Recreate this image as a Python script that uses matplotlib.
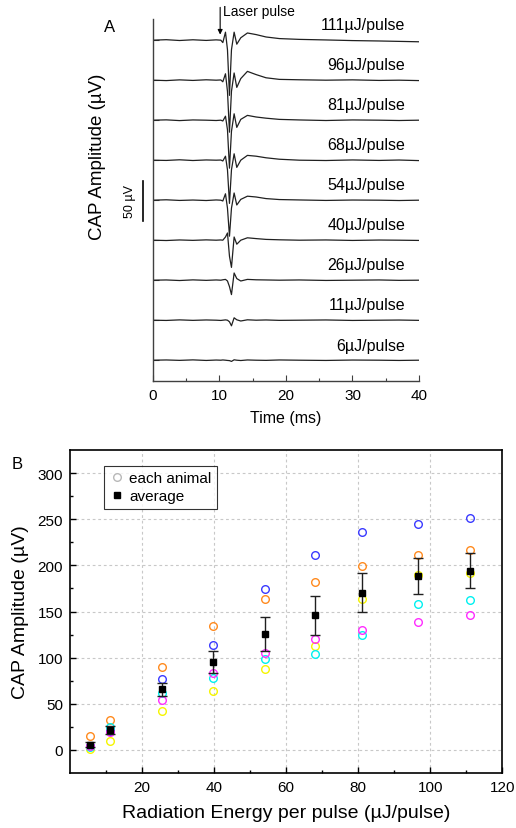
import numpy as np
import matplotlib
matplotlib.use("Agg")
import matplotlib.pyplot as plt
from matplotlib.lines import Line2D

plt.rcParams['font.family'] = ['Liberation Sans', 'DejaVu Sans']

# ---- panel A: CAP traces (key points) ----
trace_labels = ['111µJ/pulse', '96µJ/pulse', '81µJ/pulse', '68µJ/pulse', '54µJ/pulse',
                '40µJ/pulse', '26µJ/pulse', '11µJ/pulse', '6µJ/pulse']
t_key = [0, 2, 4, 6, 8, 9.5, 10.2, 10.5, 10.9, 11.2, 11.5, 11.8, 12.2, 12.6,
         13.2, 14.2, 15.5, 17, 19, 22, 26, 30, 34, 37, 40]
cap_111 = [0, 0.6, -0.4, 0.5, -0.3, 0.4, 0, -3, 10, -12, -69, -12, 10, -5,
           3, 9, 7, 4, 2, 1, 0.3, -0.5, -1.0, -1.5, -2.0]
cap_96 = [0, -0.5, 0.4, -0.3, 0.5, 0, 0.3, -2, 8, -14, -65, -14, 9, -9,
          2, 11, 7, 3, 1, 0.5, 0, 0.4, -0.3, 0, -0.5]
cap_81 = [0, 0.4, -0.5, 0.3, 0, -0.4, 0, -1, 5, -12, -60, -14, 8, -9,
          1, 6, 4, 2.5, 1, 0.3, -0.4, 0.3, 0, -0.4, 0]
cap_68 = [0, -0.3, 0.5, -0.4, 0.3, 0, 0.2, -1, 5, -12, -54, -12, 8, -9,
          0, 6, 5, 3, 1.2, 0, -0.4, 0.3, -0.3, 0.2, -0.5]
cap_54 = [0, 0.5, -0.3, 0.2, -0.4, 0.3, 0, -1, 8, -10, -45, -10, 9, -6,
          1, 5, 4, 2, 0.8, 0.3, -0.3, 0.2, 0, -0.4, 0]
cap_40 = [0, -0.4, 0.3, -0.2, 0.4, 0, 0.3, 0, 4, 9, -20, -34, 4, -5,
          0, 3, 2, 1, 0.5, 0, 0.3, -0.3, 0.2, 0, -0.3]
cap_26 = [0, 0.3, -0.4, 0.4, -0.2, 0.3, 0, 0.5, 1, -1, -8, -18, 9, 2,
          -1, 1, 0.5, 0.3, 0, 0.3, -0.3, 0, 0.3, -0.2, 0]
cap_11 = [0, -0.3, 0.4, -0.2, 0.3, 0, -0.3, 0, 0.4, 0, -2, -7, 3, 0.5,
          -1, 0.5, 0, 0.3, -0.2, 0, 0.3, -0.3, 0, 0.2, -0.2]
cap_6 = [0, 0.3, -0.2, 0.4, -0.3, 0.2, 0, 0.3, 0, -0.3, -0.5, -1.5, 0.5, 0,
         -0.4, 0.3, 0, -0.2, 0.3, 0, -0.3, 0.2, 0, -0.3, 0]
traces = [cap_111, cap_96, cap_81, cap_68, cap_54, cap_40, cap_26, cap_11, cap_6]
trace_step = 50  # µV between stacked traces (= scale bar)

# ---- panel B: amplitudes per animal ----
energy = [5.5, 11, 25.5, 39.7, 54, 68, 81, 96.6, 111]
amp_blue = [4, 20.5, 77.4, 113.4, 174.6, 211.3, 236.2, 244.8, 251.3]
amp_orange = [14.8, 33, 90, 134.3, 163.8, 182.2, 199.5, 211.3, 217]
amp_yellow = [1.4, 9.4, 42.1, 63.7, 87.5, 112.6, 163.8, 189.5, 191.9]
amp_cyan = [3.5, 25.2, 61.5, 78.5, 99, 103.7, 124.2, 158.4, 163]
amp_magenta = [4.5, 19.1, 53.7, 83.2, 105.5, 120.6, 129.6, 139, 146.1]
amp_avg = [5.8, 21.6, 65.9, 94.9, 126, 146.1, 170.6, 188.6, 194]
amp_sem = [2.5, 3.9, 7, 12, 18.4, 21, 21.2, 19.2, 19]

fig = plt.figure(figsize=(5.16, 8.29), dpi=100)

# ================= A =================
ax1 = fig.add_axes([0.2965, 0.5392, 0.5155, 0.4367])
n = len(traces)
for i, (vals, lab) in enumerate(zip(traces, trace_labels)):
    off = (n - 1 - i) * trace_step
    ax1.plot(t_key, np.array(vals) + off, color='#202020', lw=0.9)
    ax1.text(37.9, off + 19, lab, ha='right', va='center', fontsize=11.5)

ax1.set_xlim(0, 40)
ax1.set_ylim(-26, 426.5)
ax1.spines['top'].set_visible(False)
ax1.spines['right'].set_visible(False)
for s in ['left', 'bottom']:
    ax1.spines[s].set_color('#404040')
    ax1.spines[s].set_linewidth(1.0)
ax1.set_xticks([0, 10, 20, 30, 40])
ax1.set_xticks([5, 15, 25, 35], minor=True)
ax1.set_yticks(np.arange(0, 401, 50))
ax1.set_yticklabels([])
ax1.tick_params(direction='in', length=4, width=0.8, labelsize=11, pad=5, color='#404040')
ax1.tick_params(which='minor', direction='in', length=2.5, width=0.8, color='#404040')
ax1.set_xlabel('Time (ms)', fontsize=11.5, labelpad=6)

# laser pulse arrow
ax1.annotate('', xy=(10.1, 407), xytext=(10.1, 441), annotation_clip=False,
             arrowprops=dict(arrowstyle='-|>', lw=0.8, color='black', mutation_scale=7,
                             shrinkA=0, shrinkB=0))
ax1.text(10.5, 436, 'Laser pulse', fontsize=10, va='center', ha='left', clip_on=False)

# scale bar
ax1.plot([-1.5, -1.5], [174, 224], color='black', lw=1.2, clip_on=False)
ax1.text(-3.4, 199, '50 µV', rotation=90, ha='center', va='center', fontsize=9)

fig.text(97 / 516, 1 - 157 / 829, 'CAP Amplitude (µV)', rotation=90,
         ha='center', va='center', fontsize=13.5)
fig.text(110 / 516, 1 - 27 / 829, 'A', ha='center', va='center', fontsize=12)

# ================= B =================
ax2 = fig.add_axes([0.1357, 0.0663, 0.838, 0.3896])
ms_c = 5.5
for vals, col in [(amp_blue, '#3a3aff'), (amp_orange, '#ff8a1e'), (amp_yellow, '#f5f500'),
                  (amp_cyan, '#00f0f0'), (amp_magenta, '#ff2cff')]:
    ax2.plot(energy, vals, 'o', mfc='none', mec=col, mew=1.0, ms=ms_c, zorder=3)
ax2.errorbar(energy, amp_avg, yerr=amp_sem, fmt='s', color='black', ms=5,
             ecolor='#202020', elinewidth=1.0, capsize=3.5, capthick=1.0, zorder=4)

ax2.set_xlim(0, 120)
ax2.set_ylim(-25, 325)
ax2.set_xticks([20, 40, 60, 80, 100, 120])
ax2.set_xticks([10, 30, 50, 70, 90, 110], minor=True)
ax2.set_yticks([0, 50, 100, 150, 200, 250, 300])
ax2.set_yticks([25, 75, 125, 175, 225, 275], minor=True)
ax2.grid(True, which='major', color='#c8c8c8', linestyle=(0, (2.5, 2.5)), lw=0.8)
ax2.set_axisbelow(True)
for s in ax2.spines.values():
    s.set_linewidth(1.2)
ax2.tick_params(direction='in', length=4, width=1.0, labelsize=11, pad=5)
ax2.tick_params(which='minor', direction='in', length=2.5, width=1.0)
ax2.set_xlabel('Radiation Energy per pulse (µJ/pulse)', fontsize=14, labelpad=7)
ax2.set_ylabel('CAP Amplitude (µV)', fontsize=14, labelpad=6)

handles = [Line2D([], [], marker='o', ls='none', mfc='none', mec='#b8b8b8', ms=ms_c, mew=1.0),
           Line2D([], [], marker='s', ls='none', color='black', ms=5)]
leg = ax2.legend(handles, ['each animal', 'average'], loc='upper left',
                 bbox_to_anchor=(0.078, 0.952), fontsize=11, frameon=True, fancybox=False,
                 edgecolor='black', handletextpad=0.3, handlelength=1.0,
                 borderpad=0.35, labelspacing=0.3, borderaxespad=0)
leg.get_frame().set_linewidth(0.8)

fig.text(12 / 516, 1 - 465 / 829, 'B', ha='left', va='center', fontsize=12)

fig.savefig('out.png', dpi=100)
